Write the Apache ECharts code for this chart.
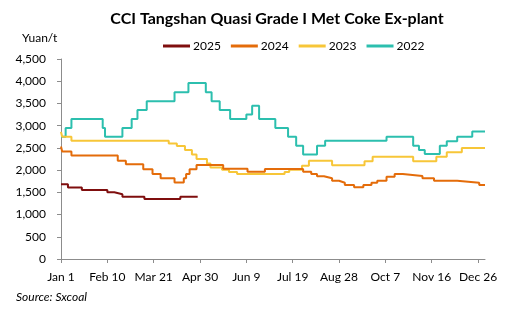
<!DOCTYPE html>
<html>
<head>
<meta charset="utf-8">
<script src="https://cdn.jsdelivr.net/npm/echarts@6/dist/echarts.min.js"></script>
<style>html,body{margin:0;padding:0;background:#fff}#c{width:507px;height:326px}</style>
</head>
<body>
<div id="c"></div>
<script>
// Tick labels (day-of-year offsets 0,40,...,360)
const tickDays = [0, 40, 80, 120, 160, 200, 240, 280, 320, 360];
const tickLabels = ['Jan 1', 'Feb 10', 'Mar 21', 'Apr 30', 'Jun 9', 'Jul 19', 'Aug 28', 'Oct 7', 'Nov 16', 'Dec 26'];
const seriesNames = ['2025', '2024', '2023', '2022'];

// Day on which each price level starts, and the price (Yuan/t)
const days2025 = [0, 6, 18, 40, 46, 53, 72, 103, 118];
const vals2025 = [1680, 1610, 1550, 1500, 1455, 1400, 1350, 1400, 1400];

const days2024 = [0, 1, 9, 49, 56, 71, 79, 86, 98, 106, 108, 111, 117, 140, 161, 176, 209, 216, 221, 227, 234, 240, 245, 253, 261, 268, 273, 281, 288, 295, 312, 322, 342, 361, 366];
const vals2024 = [2530, 2420, 2330, 2210, 2130, 2020, 1910, 1815, 1720, 1815, 1910, 2020, 2115, 2030, 1965, 2025, 1965, 1910, 1860, 1815, 1760, 1715, 1665, 1612, 1665, 1715, 1762, 1852, 1912, 1867, 1815, 1762, 1717, 1665, 1665];

const days2023 = [0, 1, 9, 93, 100, 107, 113, 117, 126, 129, 139, 145, 152, 193, 197, 208, 214, 234, 262, 269, 304, 324, 333, 346, 366];
const vals2023 = [2860, 2750, 2660, 2600, 2540, 2450, 2350, 2250, 2150, 2060, 2010, 1960, 1910, 1960, 2010, 2100, 2210, 2110, 2200, 2300, 2200, 2300, 2400, 2500, 2500];

const days2022 = [0, 4, 9, 36, 38, 53, 61, 66, 74, 98, 110, 125, 130, 137, 146, 160, 165, 171, 185, 196, 203, 209, 221, 228, 281, 304, 309, 314, 327, 333, 342, 355, 366];
const vals2022 = [2750, 2950, 3150, 2950, 2750, 2950, 3150, 3350, 3550, 3750, 3960, 3750, 3550, 3350, 3150, 3250, 3450, 3150, 2950, 2750, 2550, 2350, 2550, 2660, 2750, 2550, 2450, 2360, 2550, 2650, 2750, 2870, 2870];

const colors = {'2025': '#7f0e0e', '2024': '#e46c0a', '2023': '#f7c638', '2022': '#2cbfae'};

function pairs(d, v) { return d.map((x, i) => [x, v[i]]); }
const seriesData = {
  '2025': pairs(days2025, vals2025),
  '2024': pairs(days2024, vals2024),
  '2023': pairs(days2023, vals2023),
  '2022': pairs(days2022, vals2022)
};

const font = 'Lato, "Liberation Sans", Arial, sans-serif';
const chart = echarts.init(document.getElementById('c'), null, {renderer: 'canvas'});
chart.setOption({
  animation: false,
  backgroundColor: '#fff',
  title: {
    text: 'CCI Tangshan Quasi Grade I Met Coke Ex-plant',
    left: 277, top: 11, textAlign: 'center', padding: 0,
    textStyle: {fontFamily: font, fontSize: 16, fontWeight: 'bold', color: '#000'}
  },
  legend: {
    data: seriesNames,
    left: 163, top: 40, padding: 0,
    icon: 'rect', itemWidth: 27, itemHeight: 3, itemGap: 10,
    textStyle: {fontFamily: font, fontSize: 12, color: '#000', padding: [0, 0, 0, -2]}
  },
  grid: {left: 61, right: 22, top: 59, bottom: 67, containLabel: false},
  xAxis: {
    type: 'value', min: 0, max: 366,
    splitLine: {show: false},
    axisLine: {lineStyle: {color: '#8c8c8c'}},
    axisTick: {show: true, length: 4, lineStyle: {color: '#8c8c8c'}, customValues: tickDays},
    axisLabel: {
      customValues: tickDays,
      margin: 12,
      fontFamily: font, fontSize: 12, color: '#000',
      formatter: v => tickLabels[tickDays.indexOf(v)] || ''
    }
  },
  yAxis: {
    type: 'value', min: 0, max: 4500, interval: 500,
    splitLine: {show: false},
    axisLine: {show: true, lineStyle: {color: '#8c8c8c'}},
    axisTick: {show: true, length: 4, lineStyle: {color: '#8c8c8c'}},
    axisLabel: {
      margin: 15, fontFamily: font, fontSize: 12, color: '#000',
      formatter: v => v.toLocaleString('en-US')
    }
  },
  graphic: [
    {type: 'text', left: 22, top: 32, style: {text: 'Yuan/t', font: '12px ' + font, fill: '#000'}},
    {type: 'text', left: 16, top: 291, style: {text: 'Source: Sxcoal', font: 'italic 12px ' + font, fill: '#000'}}
  ],
  series: ['2022', '2023', '2024', '2025'].map(name => ({
    name: name,
    type: 'line',
    step: 'end',
    showSymbol: false,
    symbol: 'none',
    data: seriesData[name],
    color: colors[name],
    lineStyle: {width: 2, color: colors[name]},
    emphasis: {disabled: true}
  }))
});
</script>
</body>
</html>
